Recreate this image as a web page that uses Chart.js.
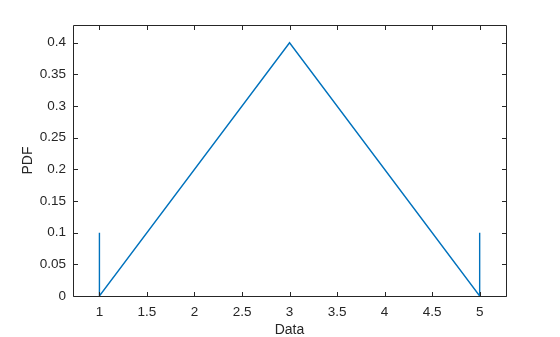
<!DOCTYPE html>
<html>
<head>
<meta charset="utf-8">
<script src="https://cdn.jsdelivr.net/npm/chart.js@4/dist/chart.umd.min.js"></script>
<style>
html,body{margin:0;padding:0;background:#fff;}
#wrap{width:560px;height:337px;}
</style>
</head>
<body>
<div id="wrap"><canvas id="c" width="560" height="337"></canvas></div>
<script>
const xValues = [1, 1, 3, 5, 5];
const yValues = [0.1, 0, 0.4, 0, 0.1];
const xTicks = [1, 1.5, 2, 2.5, 3, 3.5, 4, 4.5, 5];
const yTicks = [0, 0.05, 0.1, 0.15, 0.2, 0.25, 0.3, 0.35, 0.4];
const xLabel = 'Data';
const yLabel = 'PDF';

const ink = '#262626';
const fontFam = '"Liberation Sans", Arial, Helvetica, sans-serif';

const boxPlugin = {
  id: 'boxTicks',
  afterDraw(chart) {
    const ctx = chart.ctx;
    const a = chart.chartArea;
    const xs = chart.scales.x, ys = chart.scales.y;
    const L = Math.round(a.left) + 0.5, R = Math.round(a.right) + 0.5;
    const T = Math.round(a.top) + 0.5, B = Math.round(a.bottom) + 0.5;
    const tl = 4.5;
    ctx.save();
    ctx.strokeStyle = ink;
    ctx.lineWidth = 1;
    ctx.beginPath();
    ctx.rect(L, T, R - L, B - T);
    xTicks.forEach(v => {
      const px = Math.round(xs.getPixelForValue(v)) + 0.5;
      ctx.moveTo(px, B); ctx.lineTo(px, B - tl);
      ctx.moveTo(px, T); ctx.lineTo(px, T + tl);
    });
    yTicks.forEach(v => {
      const py = Math.round(ys.getPixelForValue(v)) + 0.5;
      ctx.moveTo(L, py); ctx.lineTo(L + tl, py);
      ctx.moveTo(R, py); ctx.lineTo(R - tl, py);
    });
    ctx.stroke();
    ctx.restore();
  }
};

new Chart(document.getElementById('c'), {
  type: 'line',
  data: {
    datasets: [{
      data: xValues.map((x, i) => ({x: x, y: yValues[i]})),
      borderColor: '#0072BD',
      borderWidth: 1.4,
      pointRadius: 0,
      fill: false,
      tension: 0
    }]
  },
  options: {
    responsive: false,
    animation: false,
    layout: {padding: {left: 0, right: 54, top: 25, bottom: 0}},
    plugins: {legend: {display: false}, tooltip: {enabled: false}},
    scales: {
      x: {
        type: 'linear',
        min: 0.722, max: 5.277,
        afterBuildTicks(s) { s.ticks = xTicks.map(v => ({value: v})); },
        afterFit(s) { s.height = 41; },
        grid: {display: false, drawTicks: false},
        border: {display: false},
        ticks: {color: ink, font: {family: fontFam, size: 13.5}, padding: 8, maxRotation: 0, autoSkip: false,
          callback: v => String(v)},
        title: {display: true, text: xLabel, color: ink, font: {family: fontFam, size: 14}, padding: {top: 0, bottom: -2}}
      },
      y: {
        type: 'linear',
        min: 0, max: 0.428,
        afterBuildTicks(s) { s.ticks = yTicks.map(v => ({value: v})); },
        afterFit(s) { s.width = 73; },
        grid: {display: false, drawTicks: false},
        border: {display: false},
        ticks: {color: ink, font: {family: fontFam, size: 13.5}, padding: 7, autoSkip: false,
          callback: v => String(v)},
        title: {display: true, text: yLabel, color: ink, font: {family: fontFam, size: 14}, padding: {top: 20, bottom: 0}}
      }
    }
  },
  plugins: [boxPlugin]
});
</script>
</body>
</html>
